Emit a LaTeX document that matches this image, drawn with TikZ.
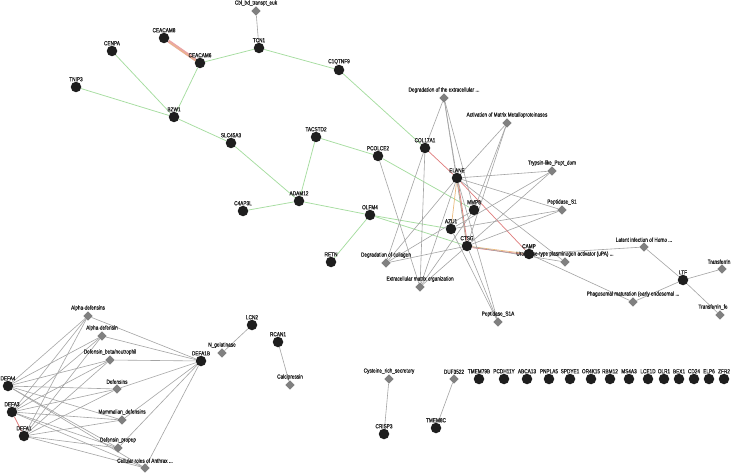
\documentclass[tikz,border=0pt]{standalone}
\usepackage{fontspec}
\setmainfont{Liberation Sans}[FakeStretch=0.8,FakeBold=0.6]
\usetikzlibrary{shapes.geometric,backgrounds}
\definecolor{nodedark}{HTML}{1E1E1E}
\definecolor{termgrey}{HTML}{808080}
\definecolor{edgegrey}{HTML}{A4A4A4}
\definecolor{edgegreen}{HTML}{A6DDA0}
\definecolor{edgered}{HTML}{E07C7C}
\definecolor{edgeorange}{HTML}{EBBB80}
\definecolor{edgepink}{HTML}{EAA6A6}
\definecolor{labelc}{HTML}{222222}
\begin{document}
\begin{tikzpicture}[x=1pt,y=-1pt,
  lbl/.style={font=\fontsize{5.9}{6}\selectfont,text=labelc,inner sep=0pt},
  gene/.style={circle,fill=nodedark,minimum size=10.5pt,inner sep=0pt,label distance=2.3pt},
  term/.style={diamond,fill=termgrey,minimum size=9.5pt,inner sep=0pt,label distance=1.2pt},
  ge/.style={draw=edgegrey,line width=0.6pt},
  gr/.style={draw=edgegreen,line width=0.75pt},
  rd/.style={draw=edgered,line width=0.7pt},
  og/.style={draw=edgeorange,line width=0.7pt}]
\useasboundingbox (0,0) rectangle (733,473);
% genes
\newcommand\gn[4]{\node[gene,label={[lbl]above:#4}] (#1) at (#2,#3) {};}
\newcommand\tm[4]{\node[term,label={[lbl]above:#4}] (#1) at (#2,#3) {};}
\gn{CEACAMe}{164}{38}{CEACAM8}
\gn{CEACAMs}{200}{63}{CEACAM6}
\gn{CENPA}{112}{51}{CENPA}
\gn{TNIP3}{76}{87}{TNIP3}
\gn{BZW1}{174}{117}{BZW1}
\gn{SLC45A3}{231}{143}{SLC45A3}
\gn{TCN1}{259}{48}{TCN1}
\gn{C1QTNF9}{339}{70}{C1QTNF9}
\gn{COL17A1}{425}{148}{COL17A1}
\gn{TACSTD2}{316}{137}{TACSTD2}
\gn{PCOLCE2}{378}{156}{PCOLCE2}
\gn{ADAM12}{299}{201}{ADAM12}
\gn{CHI}{243}{211}{C4AP3L}
\gn{OLFM4}{370}{215}{OLFM4}
\gn{RETN}{331}{262}{RETN}
\gn{ELANE}{457}{178}{ELANE}
\gn{MMP8}{474}{210}{MMP8}
\gn{AZU1}{451}{229}{AZU1}
\gn{CTSG}{467}{246}{CTSG}
\gn{CAMP}{529}{254}{CAMP}
\gn{LTF}{683}{280}{LTF}
\gn{DEFA4}{8}{386}{DEFA4}
\gn{DEFA3}{12}{412}{DEFA3}
\gn{DEFA1}{24}{436}{DEFA1}
\gn{DEFA1B}{201}{361}{DEFA1B}
\gn{LCN2}{252}{325}{LCN2}
\gn{RCAN1}{278}{342}{RCAN1}
\gn{CRISP3}{384}{434}{CRISP3}
\gn{TMEM8C}{436}{428}{TMEM8C}
\gn{TMEM79B}{479}{379}{TMEM79B}
\gn{PCDH11Y}{504}{379}{PCDH11Y}
\gn{ABCA13}{527}{379}{ABCA13}
\gn{PNPLA5}{549}{379}{PNPLA5}
\gn{SPDYE1}{570}{379}{SPDYE1}
\gn{OR4K15}{591}{379}{OR4K15}
\gn{RBM12}{610}{379}{RBM12}
\gn{MS4A3}{629}{379}{MS4A3}
\gn{LCE1D}{648}{379}{LCE1D}
\gn{OLR1}{664}{379}{OLR1}
\gn{BEX1}{679}{379}{BEX1}
\gn{CD24}{694}{379}{CD24}
\gn{ELP6}{709}{379}{ELP6}
\gn{ZFR2}{724}{379}{ZFR2}
% terms
\tm{Cbl}{256}{11}{Cbl\_bd\_transpt\_euk}
\tm{degECM}{444}{98}{Degradation of the extracellular ...}
\tm{actMMP}{507}{123}{Activation of Matrix Metalloproteinases}
\tm{trypsin}{552}{171}{Trypsin-like\_Pept\_dom}
\tm{pepS}{562}{210}{Peptidase\_S1}
\tm{uPA}{565}{262}{Urokinase-type plasminogen activator (uPA) ...}
\tm{pepSA}{498}{322}{Peptidase\_S1A}
\tm{degcoll}{386}{263}{Degradation of collagen}
\tm{ecmorg}{420}{287}{Extracellular matrix organization}
\tm{latent}{644}{247}{Latent infection of Homo ...}
\tm{phago}{633}{302}{Phagosomal maturation (early endosomal ...}
\node[term,label={[lbl,xshift=-3pt]above:Transferrin}] (transf) at (722,269) {};
\node[term,label={[lbl,xshift=-7pt]above:Transferrin\_fe}] (transffe) at (720,315) {};
\tm{alphas}{88}{316}{Alpha-defensins}
\tm{alpha}{102}{336}{Alpha-defensin}
\tm{defbeta}{110}{360}{Defensin\_beta/neutrophil}
\tm{defensins}{117}{389}{Defensins}
\tm{mammal}{122}{420}{Mammalian\_defensins}
\tm{propep}{118}{448}{Defensin\_propep}
\tm{anthrax}{145}{468}{Cellular roles of Anthrax ...}
\tm{ngel}{222}{353}{N\_gelatinase}
\tm{calci}{290}{385}{Calcipressin}
\tm{cys}{389}{379}{Cysteine\_rich\_secretory}
\tm{duf}{454}{379}{DUF3522}
\begin{scope}[on background layer]
\fill[white] (0,0) rectangle (733,473);
% green edges
\draw[gr] (CENPA) -- (BZW1);
\draw[gr] (TNIP3) -- (BZW1);
\draw[gr] (BZW1) -- (CEACAMs);
\draw[gr] (BZW1) -- (SLC45A3);
\draw[gr] (SLC45A3) -- (ADAM12);
\draw[gr] (CEACAMs) -- (TCN1);
\draw[gr] (TCN1) -- (C1QTNF9);
\draw[gr] (C1QTNF9) -- (COL17A1);
\draw[gr] (TACSTD2) -- (ADAM12);
\draw[gr] (TACSTD2) -- (PCOLCE2);
\draw[gr] (PCOLCE2) -- (MMP8);
\draw[gr] (ADAM12) -- (CHI);
\draw[gr] (ADAM12) -- (OLFM4);
\draw[gr] (OLFM4) -- (RETN);
\draw[gr] (OLFM4) -- (AZU1);
\draw[gr] (OLFM4) -- (CTSG);
% coloured edges
\draw[draw=edgepink,line width=3pt] (CEACAMe) -- (CEACAMs);
\draw[og,transform canvas={xshift=0.7pt,yshift=-1.3pt}] (CEACAMe) -- (CEACAMs);
\draw[rd] (COL17A1) -- (ELANE);
\draw[og] (ELANE) -- (AZU1);
\draw[og] (ELANE) -- (CTSG);
\draw[rd,transform canvas={xshift=0.7pt}] (ELANE) -- (CTSG);
\draw[rd] (ELANE) -- (CAMP);
\draw[og] (CTSG) -- (CAMP);
\draw[rd,transform canvas={yshift=-1pt}] (CTSG) -- (CAMP);
\draw[rd] (DEFA3) -- (DEFA1);
% grey edges
\draw[ge] (TCN1) -- (Cbl);
\foreach \g in {COL17A1,ELANE,MMP8,CTSG} {
  \draw[ge] (\g) -- (degECM);
  \draw[ge] (\g) -- (degcoll);
  \draw[ge] (\g) -- (ecmorg);
}
\draw[ge] (PCOLCE2) -- (ecmorg);
\foreach \g in {ELANE,MMP8,CTSG} \draw[ge] (\g) -- (actMMP);
\foreach \g in {ELANE,AZU1,CTSG} {
  \draw[ge] (\g) -- (trypsin);
  \draw[ge] (\g) -- (pepS);
  \draw[ge] (\g) -- (pepSA);
}
\draw[ge] (ELANE) -- (uPA);
\draw[ge] (CTSG) -- (uPA);
\draw[ge] (CAMP) -- (latent);
\draw[ge] (CAMP) -- (phago);
\draw[ge] (LTF) -- (latent);
\draw[ge] (LTF) -- (phago);
\draw[ge] (LTF) -- (transf);
\draw[ge] (LTF) -- (transffe);
\foreach \g in {DEFA4,DEFA3,DEFA1,DEFA1B}
  \foreach \t in {alphas,alpha,defbeta,defensins,mammal,propep,anthrax}
    \draw[ge] (\g) -- (\t);
\draw[ge] (ngel) -- (LCN2);
\draw[ge] (RCAN1) -- (calci);
\draw[ge] (cys) -- (CRISP3);
\draw[ge] (duf) -- (TMEM8C);
\end{scope}
\end{tikzpicture}
\end{document}
